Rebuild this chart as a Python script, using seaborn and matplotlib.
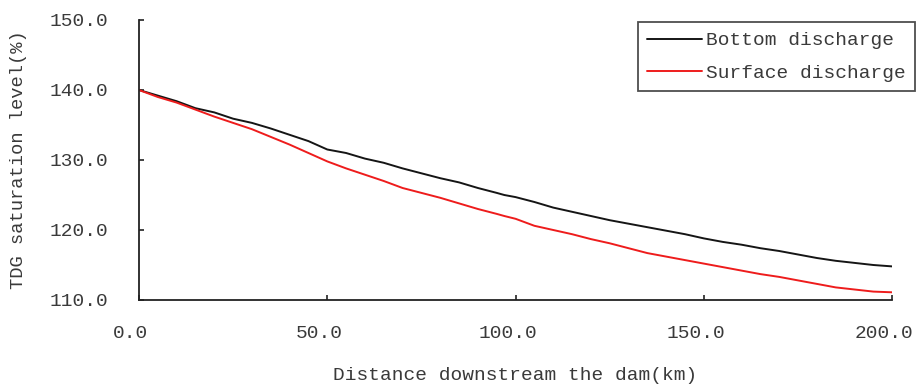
import numpy as np
import pandas as pd
import matplotlib
matplotlib.use("Agg")
import matplotlib.pyplot as plt
import matplotlib.transforms as mtransforms
import seaborn as sns

# distanza (km) e livello TDG (%)
distance = [0, 5, 10, 15, 20, 25, 30, 35, 40, 45, 50, 55, 60, 65, 70, 75, 80, 85,
            90, 95, 97, 100, 105, 110, 115, 120, 125, 130, 135, 140, 145, 150, 155,
            160, 165, 170, 175, 180, 185, 190, 195, 200]
bottom = [140.0, 139.2, 138.4, 137.4, 136.8, 135.9, 135.3, 134.5, 133.6, 132.7,
          131.5, 131.0, 130.2, 129.6, 128.8, 128.1, 127.4, 126.8, 126.0, 125.3,
          125.0, 124.7, 124.0, 123.2, 122.6, 122.0, 121.4, 120.9, 120.4, 119.9,
          119.4, 118.8, 118.3, 117.9, 117.4, 117.0, 116.5, 116.0, 115.6, 115.3,
          115.0, 114.8]
surface = [140.0, 139.0, 138.2, 137.2, 136.2, 135.3, 134.4, 133.3, 132.2, 131.0,
           129.8, 128.8, 127.9, 127.0, 126.0, 125.3, 124.6, 123.8, 123.0, 122.3,
           122.0, 121.6, 120.6, 120.0, 119.4, 118.7, 118.1, 117.4, 116.7, 116.2,
           115.7, 115.2, 114.7, 114.2, 113.7, 113.3, 112.8, 112.3, 111.8, 111.5,
           111.2, 111.1]
series_names = ["Bottom discharge", "Surface discharge"]
x_ticks = [0, 50, 100, 150, 200]
y_ticks = [110, 120, 130, 140, 150]

df = pd.DataFrame({
    "dist": distance * 2,
    "tdg": bottom + surface,
    "case": [series_names[0]] * len(distance) + [series_names[1]] * len(distance),
})

sns.set_style("white")
plt.rcParams["font.family"] = ["Liberation Mono", "DejaVu Sans"]

fig = plt.figure(figsize=(9.16, 3.86), dpi=100)
ax = fig.add_axes([0.1517, 0.2228, 0.8223, 0.7254])

sns.lineplot(data=df, x="dist", y="tdg", hue="case",
             palette={series_names[0]: "#151515", series_names[1]: "#ee1c1c"},
             linewidth=1.4, ax=ax, legend=False)

ax.set_xlim(0, 200)
ax.set_ylim(110, 150)
ax.set_xticks(x_ticks)
ax.set_yticks(y_ticks)
ax.set_xticklabels([f"{v:.1f}" for v in x_ticks], fontsize=14, color="#3a3a3a")
ax.set_yticklabels([f"{v:.1f}" for v in y_ticks], fontsize=14, color="#3a3a3a")
ax.tick_params(axis="both", direction="in", length=3.5, width=1.2, color="#222222",
               bottom=True, left=True)
ax.tick_params(axis="x", pad=18)
ax.tick_params(axis="y", pad=22)
# etichette x spostate un po' a sinistra come nell'originale
shift = mtransforms.ScaledTranslation(-8 / 100, 0, fig.dpi_scale_trans)
for lab in ax.get_xticklabels():
    lab.set_transform(lab.get_transform() + shift)
for s in ["top", "right"]:
    ax.spines[s].set_visible(False)
for s in ["left", "bottom"]:
    ax.spines[s].set_color("#222222")
    ax.spines[s].set_linewidth(1.3)

ax.set_xlabel("Distance downstream the dam(km)", fontsize=14, color="#3a3a3a", labelpad=18)
ax.set_ylabel("TDG saturation level(%)", fontsize=13.5, color="#3a3a3a", labelpad=16)

handles = [plt.Line2D([], [], color="#151515", linewidth=1.4),
           plt.Line2D([], [], color="#ee1c1c", linewidth=1.4)]
leg = fig.legend(handles, series_names, loc="upper right",
                 bbox_to_anchor=(0.999, 0.943), borderaxespad=0, fontsize=14,
                 frameon=True, fancybox=False, handlelength=2.8, handletextpad=0.2,
                 borderpad=0.5, labelspacing=0.75, labelcolor="#3a3a3a")
leg.get_frame().set_edgecolor("#222222")
leg.get_frame().set_linewidth(1.3)

fig.savefig("out.png", dpi=100)
